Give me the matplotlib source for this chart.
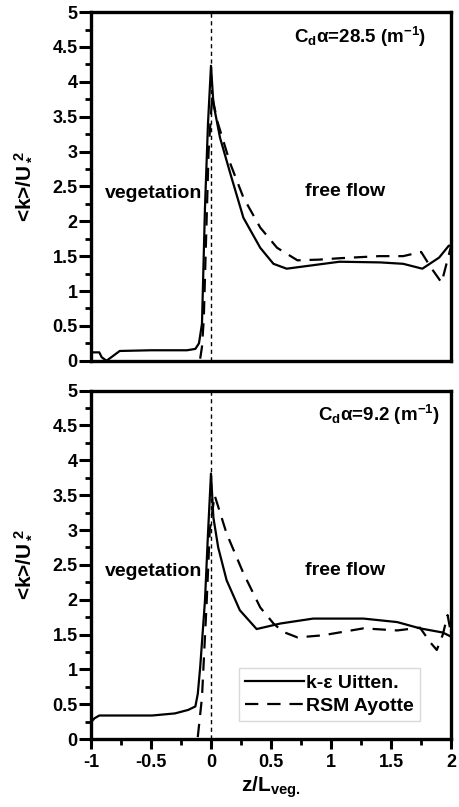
import matplotlib
matplotlib.use('Agg')
import matplotlib.pyplot as plt
from matplotlib.ticker import MultipleLocator

#%% SETTINGS
plt.rcParams['font.family'] = ['Liberation Sans', 'DejaVu Sans']
plt.rcParams['font.weight'] = 'bold'
plt.rcParams['mathtext.fontset'] = 'custom'
plt.rcParams['mathtext.rm'] = 'Liberation Sans:bold'
plt.rcParams['mathtext.it'] = 'Liberation Sans:bold'
plt.rcParams['mathtext.bf'] = 'Liberation Sans:bold'

#%% DATA
### top panel, Cd*a = 28.5
z_ke_top = [-1.0, -0.93, -0.91, -0.87, -0.83, -0.76, -0.5, -0.2, -0.13, -0.1, -0.075, -0.05, -0.025, 0.0,
            0.02, 0.075, 0.16, 0.27, 0.41, 0.52, 0.63, 0.85, 1.07, 1.41, 1.6, 1.76, 1.9, 1.98, 2.0]
k_ke_top = [0.12, 0.12, 0.05, 0.0, 0.05, 0.14, 0.15, 0.15, 0.17, 0.25, 0.53, 2.2, 3.4, 4.23,
            3.69, 3.2, 2.69, 2.05, 1.62, 1.39, 1.32, 1.37, 1.42, 1.41, 1.39, 1.32, 1.48, 1.65, 1.65]
z_rsm_top = [-0.09, -0.075, -0.06, -0.04, -0.02, 0.01, 0.05, 0.16, 0.27, 0.41, 0.55, 0.72, 0.9, 1.07,
             1.4, 1.6, 1.75, 1.83, 1.92, 2.0]
k_rsm_top = [0.03, 0.2, 0.6, 1.8, 3.0, 3.8, 3.45, 2.83, 2.34, 1.91, 1.62, 1.44, 1.45, 1.47,
             1.5, 1.5, 1.56, 1.34, 1.12, 1.65]

### bottom panel, Cd*a = 9.2
z_ke_bot = [-1.0, -0.97, -0.93, -0.7, -0.49, -0.3, -0.19, -0.13, -0.11, -0.09, -0.05, -0.025, 0.0,
            0.02, 0.06, 0.13, 0.24, 0.38, 0.58, 0.85, 1.27, 1.55, 1.74, 1.93, 2.0]
k_ke_bot = [0.24, 0.3, 0.34, 0.34, 0.34, 0.37, 0.42, 0.47, 0.65, 1.03, 1.99, 2.95, 3.81,
            3.18, 2.75, 2.28, 1.85, 1.58, 1.66, 1.73, 1.73, 1.68, 1.59, 1.53, 1.47]
z_rsm_bot = [-0.11, -0.075, -0.055, -0.035, -0.01, 0.03, 0.13, 0.27, 0.41, 0.52, 0.6, 0.72, 0.93,
             1.27, 1.55, 1.74, 1.83, 1.88, 1.93, 1.97, 2.0]
k_rsm_bot = [0.03, 0.6, 1.3, 2.0, 3.0, 3.5, 2.95, 2.38, 1.89, 1.66, 1.54, 1.46, 1.49,
             1.59, 1.56, 1.6, 1.38, 1.28, 1.5, 1.78, 1.5]

labels = ['k-\u03b5 Uitten.', 'RSM Ayotte']
panel_titles = ['C$_d$\u03b1=28.5 (m$^{-1}$)', 'C$_d$\u03b1=9.2 (m$^{-1}$)']
x_ticks = [-1, -0.5, 0, 0.5, 1, 1.5, 2]
x_ticklabels = ['-1', '-0.5', '0', '0.5', '1', '1.5', '2']
y_ticks = [0, 0.5, 1, 1.5, 2, 2.5, 3, 3.5, 4, 4.5, 5]
y_ticklabels = ['0', '0.5', '1', '1.5', '2', '2.5', '3', '3.5', '4', '4.5', '5']

#%% FIGURE
fig = plt.figure(figsize=(4.59, 8.07), dpi=100)
ax1 = fig.add_axes([0.198, 0.553, 0.785, 0.432])
ax2 = fig.add_axes([0.198, 0.084, 0.785, 0.432])

data = [(z_ke_top, k_ke_top, z_rsm_top, k_rsm_top), (z_ke_bot, k_ke_bot, z_rsm_bot, k_rsm_bot)]
title_x = [1.24, 1.4]

for i, ax in enumerate([ax1, ax2]):
    zk, kk, zr, kr = data[i]
    ax.axvline(0, color='black', lw=1.0, ls=(0, (3, 2.5)), zorder=1)
    ax.plot(zk, kk, color='black', lw=1.6, label=labels[0], zorder=3)
    ax.plot(zr, kr, color='black', lw=1.6, ls=(0, (6, 4)), label=labels[1], zorder=3)
    ax.set_xlim(-1, 2)
    ax.set_ylim(0, 5)
    ax.set_yticks(y_ticks)
    ax.set_yticklabels(y_ticklabels, fontsize=13, fontweight='bold')
    ax.yaxis.set_minor_locator(MultipleLocator(0.25))
    ax.tick_params(axis='y', which='major', direction='out', length=8.5, width=2.2, pad=1)
    ax.tick_params(axis='y', which='minor', direction='out', length=4, width=2)
    ax.tick_params(axis='y', right=False)
    for sp in ax.spines.values():
        sp.set_linewidth(2.4)
    ax.set_ylabel('<k>/U$_*^{\\ 2}$', fontsize=15, fontweight='bold')
    ax.yaxis.set_label_coords(-0.165, 0.5)
    ax.text(-0.48, 2.4, 'vegetation', fontsize=14, fontweight='bold', ha='center', va='center')
    ax.text(1.12, 2.42, 'free flow', fontsize=14, fontweight='bold', ha='center', va='center')
    ax.text(title_x[i], 4.65, panel_titles[i], fontsize=13.5, fontweight='bold', ha='center', va='center')

### top panel: no x ticks
ax1.set_xticks([])

### bottom panel x axis
ax2.set_xticks(x_ticks)
ax2.set_xticklabels(x_ticklabels, fontsize=13, fontweight='bold')
ax2.xaxis.set_minor_locator(MultipleLocator(0.25))
ax2.tick_params(axis='x', which='major', direction='out', length=7.5, width=2.2, pad=3)
ax2.tick_params(axis='x', which='minor', direction='out', length=4.5, width=2)
ax2.set_xlabel('z/L$_{\\mathrm{veg.}}$', fontsize=15, fontweight='bold', labelpad=3)

leg = ax2.legend(loc='lower right', bbox_to_anchor=(0.925, 0.04), fontsize=14, frameon=True,
                 fancybox=False, edgecolor='#d0d0d0', handlelength=3.0, handletextpad=0.1,
                 borderpad=0.35, labelspacing=0.25, borderaxespad=0.2)
leg.get_frame().set_linewidth(1.0)
for t in leg.get_texts():
    t.set_fontweight('bold')

fig.savefig('out.png', dpi=100)
